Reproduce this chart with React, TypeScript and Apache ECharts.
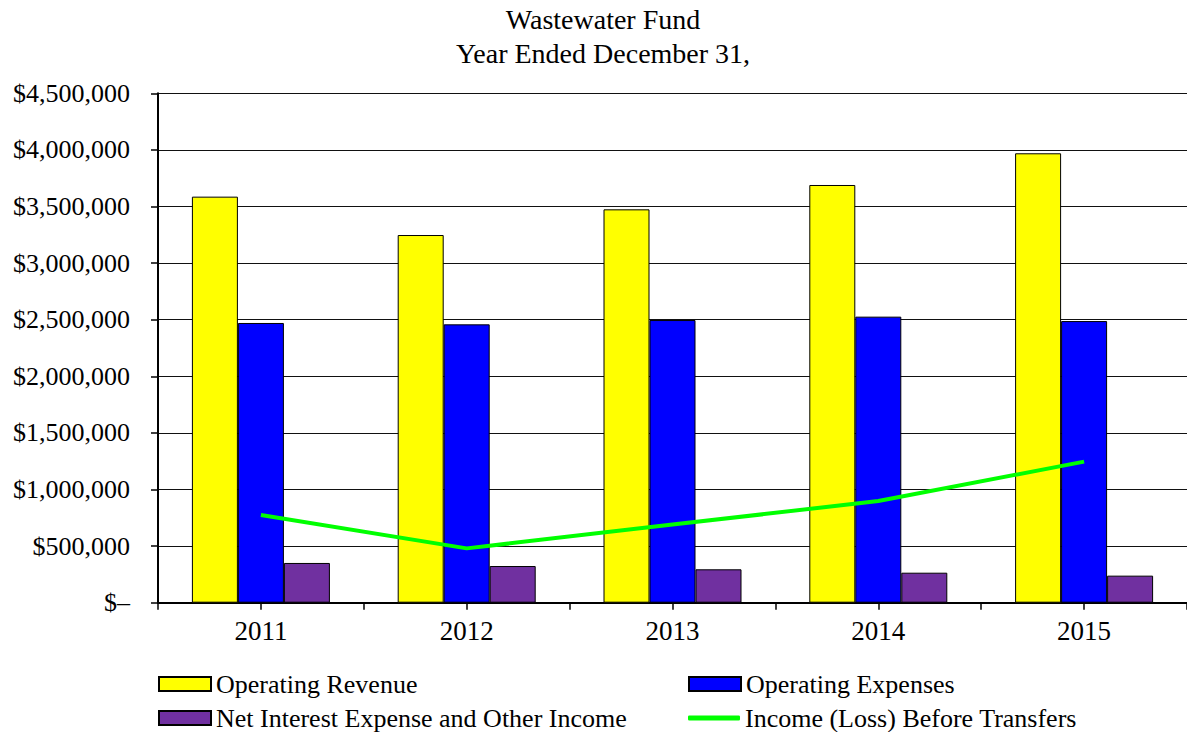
import React, { useEffect, useRef } from "react";
import * as echarts from "echarts";

const years = ["2011", "2012", "2013", "2014", "2015"];
const halfSlots = ["a", "b", "c", "d", "e", "f", "g", "h", "i", "j"];
const operatingRevenue = [3587000, 3248000, 3475000, 3690000, 3970000];
const operatingExpenses = [2471000, 2459000, 2497000, 2527000, 2488000];
const netInterest = [351000, 324000, 295000, 265000, 239000];
const incomeBeforeTransfers = [775000, 480000, 690000, 898000, 1246000];

const FONT = "Liberation Serif";

export default function App() {
  const ref = useRef<HTMLDivElement>(null);

  useEffect(() => {
    if (!ref.current) return;
    const chart = echarts.init(ref.current, undefined, { renderer: "svg" });
    const legendText = { fontFamily: FONT, fontSize: 26, color: "#000" };
    const legendCommon = {
      itemWidth: 52,
      itemHeight: 14,
      padding: 0,
      itemGap: 0,
      icon: "rect",
      textStyle: legendText,
      selectedMode: false,
    };
    chart.setOption({
      animation: false,
      backgroundColor: "#fff",
      title: {
        text: "Wastewater Fund\nYear Ended December 31,",
        left: 603,
        top: 2,
        textAlign: "center",
        padding: 0,
        textStyle: {
          fontFamily: FONT,
          fontSize: 28,
          fontWeight: "normal",
          color: "#000",
          lineHeight: 34,
        },
      },
      legend: [
        { ...legendCommon, data: ["Operating Revenue"], left: 158, top: 671 },
        { ...legendCommon, data: ["Operating Expenses"], left: 688, top: 671 },
        { ...legendCommon, data: ["Net Interest Expense and Other Income"], left: 158, top: 705 },
        {
          ...legendCommon,
          data: ["Income (Loss) Before Transfers"],
          left: 688,
          top: 705,
          icon: "roundRect",
          itemHeight: 5,
        },
      ],
      grid: {
        left: 158,
        top: 93.3,
        width: 1035,
        height: 509.4,
        containLabel: false,
      },
      xAxis: [
        {
          type: "category",
          data: years,
          axisLine: { show: true, lineStyle: { color: "#000", width: 2 } },
          axisTick: { show: false },
          axisLabel: {
            fontFamily: FONT,
            fontSize: 27,
            color: "#000",
            margin: 15,
          },
          splitLine: { show: false },
        },
        {
          type: "category",
          data: halfSlots,
          position: "bottom",
          axisLine: { show: false },
          axisTick: { show: true, length: 7, lineStyle: { color: "#000", width: 1.5 } },
          axisLabel: { show: false },
          splitLine: { show: false },
        },
      ],
      yAxis: {
        type: "value",
        min: 0,
        max: 4500000,
        interval: 500000,
        axisLine: { show: true, lineStyle: { color: "#000", width: 2 } },
        axisTick: { show: true, length: 7, lineStyle: { color: "#000", width: 1.5 } },
        axisLabel: {
          fontFamily: FONT,
          fontSize: 26,
          color: "#000",
          margin: 28,
          formatter: (v: number) =>
            v === 0 ? "$\u2013" : "$" + v.toLocaleString("en-US"),
        },
        splitLine: { show: true, lineStyle: { color: "#111", width: 1.2 } },
      },
      series: [
        {
          name: "Operating Revenue",
          type: "bar",
          data: operatingRevenue,
          barWidth: 46,
          barGap: "0%",
          itemStyle: { color: "#FFFF00", borderColor: "#000", borderWidth: 1 },
        },
        {
          name: "Operating Expenses",
          type: "bar",
          data: operatingExpenses,
          barWidth: 46,
          barGap: "0%",
          itemStyle: { color: "#0000FF", borderColor: "#000", borderWidth: 1 },
        },
        {
          name: "Net Interest Expense and Other Income",
          type: "bar",
          data: netInterest,
          barWidth: 46,
          barGap: "0%",
          itemStyle: { color: "#7030A0", borderColor: "#000", borderWidth: 1 },
        },
        {
          name: "Income (Loss) Before Transfers",
          type: "line",
          data: incomeBeforeTransfers,
          symbol: "none",
          z: 5,
          lineStyle: { color: "#00FF00", width: 4 },
          itemStyle: { color: "#00FF00" },
        },
      ],
    });
    return () => chart.dispose();
  }, []);

  return (
    <div
      ref={ref}
      style={{ position: "absolute", left: 0, top: 0, width: 1187, height: 732 }}
    />
  );
}
